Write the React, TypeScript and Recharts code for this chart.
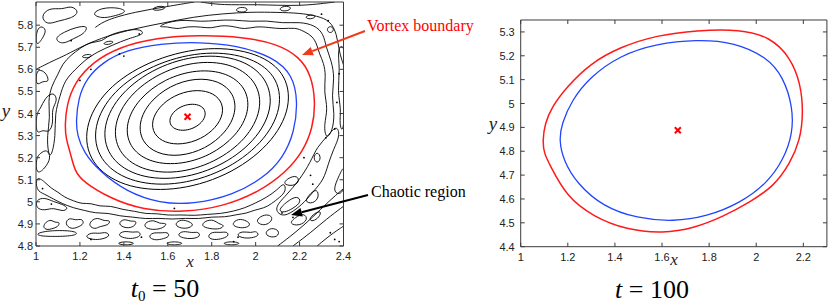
import React from 'react';
import { ComposedChart, Line, Scatter, XAxis, YAxis } from 'recharts';

type P = [number, number];

// ---------- axes ----------
const leftXTicks = [1, 1.2, 1.4, 1.6, 1.8, 2, 2.2, 2.4];
const leftYTicks = [4.8, 4.9, 5, 5.1, 5.2, 5.3, 5.4, 5.5, 5.6, 5.7, 5.8];
const rightXTicks = [1, 1.2, 1.4, 1.6, 1.8, 2, 2.2];
const rightYTicks = [4.4, 4.5, 4.6, 4.7, 4.8, 4.9, 5, 5.1, 5.2, 5.3];
const leftXDomain: [number, number] = [1, 2.4];
const leftYDomain: [number, number] = [4.8, 5.905];
const rightXDomain: [number, number] = [1, 2.3];
const rightYDomain: [number, number] = [4.4, 5.35];

// ---------- vortex centres ----------
const leftCenter: P[] = [[1.69, 5.385]];
const rightCenter: P[] = [[1.667, 4.888]];

// ---------- t0 = 50 : closed contour rings inside the vortex ----------
const leftRings: P[][] = [
  [[1.773,5.391],[1.768,5.421],[1.742,5.44],[1.702,5.444],[1.659,5.432],[1.624,5.406],[1.607,5.375],[1.612,5.345],[1.638,5.326],[1.678,5.322],[1.721,5.334],[1.756,5.36]],
  [[1.855,5.4],[1.845,5.46],[1.794,5.5],[1.715,5.508],[1.629,5.483],[1.56,5.431],[1.525,5.366],[1.535,5.306],[1.586,5.266],[1.665,5.258],[1.751,5.283],[1.82,5.335]],
  [[1.913,5.405],[1.901,5.492],[1.833,5.549],[1.726,5.562],[1.61,5.527],[1.515,5.453],[1.467,5.361],[1.479,5.274],[1.548,5.217],[1.654,5.204],[1.771,5.239],[1.865,5.313]],
  [[1.974,5.411],[1.958,5.517],[1.87,5.586],[1.734,5.601],[1.586,5.558],[1.466,5.467],[1.406,5.355],[1.422,5.249],[1.51,5.18],[1.646,5.165],[1.794,5.208],[1.914,5.299]],
  [[2.03,5.417],[2.01,5.541],[1.905,5.623],[1.742,5.641],[1.565,5.589],[1.421,5.483],[1.35,5.349],[1.37,5.225],[1.475,5.143],[1.638,5.125],[1.815,5.177],[1.959,5.283]],
  [[2.08,5.422],[2.056,5.56],[1.935,5.651],[1.747,5.67],[1.545,5.612],[1.381,5.493],[1.3,5.344],[1.324,5.206],[1.445,5.115],[1.633,5.096],[1.835,5.154],[1.999,5.273]],
  [[2.124,5.426],[2.097,5.578],[1.961,5.665],[1.753,5.684],[1.527,5.622],[1.346,5.502],[1.256,5.34],[1.283,5.188],[1.419,5.089],[1.627,5.069],[1.853,5.133],[2.034,5.264]],
  [[2.166,5.431],[2.136,5.594],[1.987,5.685],[1.758,5.705],[1.511,5.64],[1.312,5.511],[1.214,5.335],[1.244,5.172],[1.393,5.066],[1.622,5.044],[1.869,5.113],[2.068,5.255]],
];

const leftBlue: P[] = [[1.182,5.362],[1.192,5.468],[1.23,5.559],[1.306,5.634],[1.412,5.687],[1.564,5.717],[1.745,5.724],[1.912,5.709],[2.079,5.657],[2.17,5.574],[2.192,5.453],[2.177,5.317],[2.124,5.197],[2.033,5.106],[1.897,5.031],[1.715,4.989],[1.564,4.993],[1.412,5.046],[1.291,5.136],[1.215,5.227],[1.188,5.302]];

const leftRed: P[] = [[1.132,5.348],[1.139,5.438],[1.177,5.543],[1.26,5.634],[1.382,5.702],[1.548,5.743],[1.745,5.755],[1.942,5.747],[2.094,5.717],[2.2,5.657],[2.253,5.574],[2.273,5.453],[2.26,5.333],[2.215,5.227],[2.14,5.136],[2.018,5.046],[1.851,4.978],[1.67,4.952],[1.488,4.963],[1.336,5.016],[1.215,5.091],[1.177,5.136],[1.155,5.227],[1.136,5.287]];

// ---------- t0 = 50 : chaotic contours outside the vortex ----------
const chaosLoops: P[][] = [
  // left edge
  [[1.0,5.3],[1.03,5.33],[1.06,5.31],[1.08,5.36],[1.07,5.42],[1.1,5.46],[1.08,5.5],[1.04,5.47],[1.02,5.42],[1.0,5.4]],
  [[1.0,5.12],[1.04,5.15],[1.07,5.2],[1.05,5.24],[1.02,5.22],[1.0,5.2]],
  [[1.0,5.52],[1.03,5.55],[1.06,5.54],[1.05,5.58],[1.02,5.6],[1.0,5.59]],
  // band above red (upper-left)
  [[1.07,5.2],[1.09,5.3],[1.085,5.4],[1.11,5.48],[1.13,5.55],[1.18,5.6],[1.22,5.64],[1.28,5.68],[1.35,5.71],[1.42,5.74],[1.5,5.76],[1.47,5.785],[1.4,5.775],[1.33,5.755],[1.3,5.725],[1.25,5.725],[1.2,5.695],[1.16,5.665],[1.12,5.625],[1.1,5.575],[1.07,5.525],[1.055,5.455],[1.065,5.385],[1.05,5.3],[1.055,5.22]],
  [[1.2,5.655],[1.23,5.67],[1.26,5.665],[1.24,5.65]],
  [[1.3,5.715],[1.33,5.73],[1.36,5.725],[1.33,5.71]],
  // top-left corner
  [[1.02,5.84],[1.06,5.88],[1.12,5.87],[1.16,5.89],[1.2,5.86],[1.16,5.83],[1.1,5.82],[1.05,5.8]],
  [[1.08,5.74],[1.13,5.77],[1.18,5.79],[1.24,5.8],[1.22,5.76],[1.17,5.74],[1.12,5.71]],
  [[1.0,5.7],[1.03,5.74],[1.05,5.78],[1.02,5.8],[1.0,5.77]],
  [[1.25,5.85],[1.3,5.88],[1.38,5.88],[1.42,5.86],[1.35,5.84],[1.3,5.83]],
  // top band and right side
  [[1.55,5.79],[1.6,5.795],[1.64,5.78],[1.69,5.795],[1.75,5.792],[1.8,5.785],[1.84,5.8],[1.9,5.795],[1.95,5.78],[2.0,5.795],[2.06,5.79],[2.12,5.782],[2.18,5.79],[2.22,5.772],[2.26,5.75],[2.28,5.71],[2.29,5.67],[2.31,5.63],[2.32,5.57],[2.31,5.5],[2.33,5.42],[2.31,5.35],[2.32,5.28],[2.35,5.32],[2.36,5.4],[2.345,5.48],[2.36,5.56],[2.345,5.64],[2.32,5.7],[2.31,5.76],[2.27,5.8],[2.2,5.815],[2.12,5.808],[2.05,5.822],[1.98,5.815],[1.9,5.825],[1.82,5.822],[1.75,5.815],[1.68,5.825],[1.6,5.815]],
  [[1.9,5.865],[1.93,5.885],[1.97,5.875],[1.95,5.855]],
  [[2.1,5.87],[2.13,5.89],[2.17,5.88],[2.14,5.86]],
  [[2.22,5.835],[2.25,5.85],[2.28,5.84],[2.25,5.825]],
  [[1.52,5.87],[1.56,5.89],[1.6,5.88],[1.56,5.865]],
  [[2.32,5.78],[2.34,5.8],[2.36,5.78],[2.34,5.76]],
  // right edge
  [[2.37,5.7],[2.385,5.6],[2.372,5.5],[2.39,5.42],[2.38,5.35],[2.4,5.3],[2.41,5.5],[2.41,5.72]],
  [[2.08,4.97],[2.14,5.03],[2.2,5.1],[2.25,5.18],[2.28,5.25],[2.33,5.3],[2.37,5.35],[2.385,5.3],[2.355,5.24],[2.33,5.17],[2.31,5.1],[2.265,5.05],[2.225,5.0],[2.17,4.955],[2.12,4.93]],
  [[2.26,5.2],[2.28,5.23],[2.3,5.2],[2.28,5.17]],
  [[2.35,5.05],[2.38,5.12],[2.41,5.18],[2.41,5.06],[2.38,5.03]],
  // bottom band just below red
  [[1.0,5.12],[1.04,5.09],[1.07,5.06],[1.1,5.045],[1.13,5.02],[1.17,5.005],[1.21,4.99],[1.25,4.995],[1.29,4.978],[1.34,4.983],[1.39,4.965],[1.45,4.958],[1.5,4.945],[1.55,4.948],[1.6,4.938],[1.66,4.942],[1.72,4.937],[1.78,4.944],[1.84,4.946],[1.9,4.958],[1.95,4.972],[2.0,4.995],[2.05,5.02],[2.1,5.055],[2.13,5.09],[2.14,5.05],[2.11,5.02],[2.07,4.99],[2.04,4.972],[1.99,4.962],[1.96,4.948],[1.91,4.942],[1.86,4.93],[1.8,4.933],[1.74,4.922],[1.68,4.927],[1.62,4.92],[1.56,4.927],[1.5,4.922],[1.44,4.932],[1.38,4.935],[1.33,4.95],[1.27,4.948],[1.22,4.962],[1.17,4.972],[1.12,4.992],[1.08,5.012],[1.04,5.035],[1.0,5.05]],
  [[1.005,4.86],[1.08,4.872],[1.186,4.868],[1.19,4.848],[1.1,4.842],[1.005,4.845]],
  [[1.0,4.97],[1.04,4.96],[1.08,4.975],[1.12,4.955],[1.15,4.97],[1.12,4.99],[1.08,5.0],[1.04,5.02],[1.0,5.01]],
  // bottom texture, row 1
  [[1.03,4.885],[1.045,4.91],[1.07,4.92],[1.085,4.905],[1.11,4.91],[1.1,4.885],[1.07,4.878],[1.05,4.872]],
  [[1.13,4.9],[1.15,4.93],[1.18,4.915],[1.21,4.925],[1.22,4.9],[1.19,4.885],[1.16,4.875]],
  [[1.24,4.89],[1.25,4.915],[1.28,4.93],[1.31,4.912],[1.34,4.918],[1.33,4.893],[1.29,4.89],[1.27,4.875]],
  [[1.37,4.9],[1.4,4.925],[1.43,4.91],[1.46,4.915],[1.45,4.888],[1.41,4.878]],
  [[1.49,4.885],[1.5,4.91],[1.54,4.918],[1.56,4.9],[1.6,4.905],[1.58,4.88],[1.53,4.872]],
  [[1.63,4.9],[1.66,4.922],[1.7,4.91],[1.72,4.895],[1.69,4.878],[1.65,4.882]],
  [[1.75,4.89],[1.77,4.915],[1.81,4.92],[1.83,4.9],[1.86,4.895],[1.84,4.875],[1.79,4.878]],
  [[1.89,4.9],[1.92,4.925],[1.96,4.915],[1.98,4.895],[1.95,4.88],[1.91,4.885]],
  [[2.0,4.91],[2.02,4.935],[2.06,4.945],[2.08,4.925],[2.06,4.9],[2.03,4.893]],
  // bottom texture, row 2
  [[1.22,4.84],[1.25,4.862],[1.29,4.855],[1.32,4.865],[1.34,4.845],[1.3,4.83],[1.26,4.828]],
  [[1.37,4.85],[1.4,4.87],[1.44,4.86],[1.47,4.868],[1.48,4.845],[1.44,4.832],[1.4,4.836]],
  [[1.51,4.84],[1.53,4.862],[1.57,4.858],[1.6,4.864],[1.61,4.842],[1.57,4.83],[1.54,4.826]],
  [[1.64,4.85],[1.67,4.87],[1.71,4.858],[1.74,4.866],[1.75,4.842],[1.71,4.832],[1.67,4.835]],
  [[1.78,4.843],[1.8,4.865],[1.84,4.86],[1.87,4.866],[1.88,4.845],[1.84,4.83],[1.8,4.828]],
  [[1.91,4.85],[1.94,4.868],[1.98,4.858],[2.0,4.87],[2.02,4.848],[1.98,4.835],[1.94,4.836]],
  [[2.04,4.86],[2.07,4.885],[2.11,4.87],[2.1,4.84],[2.06,4.84]],
  // bottom texture, row 3
  [[1.36,4.812],[1.41,4.822],[1.46,4.812],[1.41,4.802]],
  [[1.58,4.812],[1.63,4.822],[1.68,4.812],[1.63,4.802]],
  [[1.84,4.812],[1.89,4.822],[1.94,4.812],[1.89,4.802]],
  // around the "chaotic region" arrow
  [[2.1,4.96],[2.14,5.0],[2.19,5.03],[2.21,5.0],[2.17,4.97],[2.13,4.95]],
  [[2.15,4.9],[2.18,4.93],[2.22,4.95],[2.24,4.92],[2.2,4.89]],
  [[2.12,5.08],[2.15,5.11],[2.19,5.12],[2.2,5.09],[2.17,5.07]],
  [[2.22,5.0],[2.25,5.04],[2.28,5.06],[2.29,5.02],[2.26,4.99]],
  [[2.24,4.92],[2.27,4.95],[2.3,4.96],[2.29,4.93],[2.26,4.91]],
];

const chaosOpen: P[][] = [
  [[1.0,5.6],[1.04,5.62],[1.08,5.64],[1.135,5.664],[1.22,5.71],[1.32,5.75],[1.45,5.785],[1.58,5.81],[1.718,5.838],[1.85,5.852],[1.98,5.86],[2.1,5.858],[2.2,5.855],[2.28,5.842],[2.34,5.82],[2.37,5.76],[2.38,5.68],[2.4,5.62]],
  [[1.27,5.79],[1.32,5.825],[1.45,5.86],[1.6,5.885],[1.72,5.905]],
  [[1.75,5.905],[1.85,5.89],[2.0,5.895],[2.2,5.885],[2.36,5.905]],
  [[2.1,4.8],[2.18,4.86],[2.26,4.93],[2.33,5.0],[2.4,5.06]],
  [[2.17,4.8],[2.25,4.86],[2.32,4.92],[2.4,4.98]],
  [[2.28,4.8],[2.34,4.85],[2.4,4.89]],
];

const chaosDots: P[] = [
  [1.03,5.06],[1.07,4.99],[1.25,4.83],[1.48,4.84],[1.92,4.84],[2.12,4.95],[2.17,4.93],[2.34,4.86],[2.36,4.83],
  [2.32,5.29],[2.36,5.33],[2.37,5.45],[2.38,5.58],[1.38,5.67],[1.4,5.66],[1.2,5.55],[1.25,5.6],[2.3,5.85],
  [2.33,5.82],[1.63,4.97],[1.9,4.82],[2.26,5.08],[2.25,5.12],[2.22,5.2],[1.47,5.76],[1.16,5.73],[2.38,4.82],
];

// ---------- t = 100 ----------
const rightRed: P[] = [[1.093,4.846],[1.103,4.916],[1.132,4.986],[1.195,5.069],[1.294,5.167],[1.422,5.237],[1.578,5.286],[1.747,5.307],[1.931,5.311],[2.059,5.279],[2.144,5.195],[2.189,5.084],[2.2,4.958],[2.186,4.846],[2.144,4.749],[2.073,4.651],[1.974,4.588],[1.86,4.526],[1.733,4.477],[1.605,4.456],[1.45,4.47],[1.308,4.526],[1.195,4.609],[1.124,4.742],[1.099,4.791]];
const rightBlue: P[] = [[1.163,4.846],[1.174,4.916],[1.217,5.014],[1.294,5.111],[1.422,5.202],[1.578,5.251],[1.747,5.268],[1.903,5.258],[2.045,5.195],[2.115,5.111],[2.155,4.986],[2.155,4.874],[2.115,4.763],[2.045,4.665],[1.931,4.582],[1.79,4.526],[1.648,4.505],[1.493,4.519],[1.351,4.567],[1.238,4.665],[1.181,4.763]];

// ---------- helpers ----------
const toPts = (c: P[]) => c.map(([x, y]) => ({ x, y }));
const fmt = (v: number) => String(Math.round(v * 10) / 10);
const tickFont = "'Liberation Sans', Arial, Helvetica, sans-serif";
const frame = '#3a3a3a';

const makeTick = (side: string, gap: number) => (props: any) => {
  const { x, y, payload } = props;
  if (side === 'bottom')
    return (
      <g>
        <line x1={x} y1={y} x2={x} y2={y - 4} stroke={frame} />
        <text x={x} y={y + 14} textAnchor="middle" fontSize={11} fontFamily={tickFont} fill="#222">{fmt(payload.value)}</text>
      </g>
    );
  if (side === 'left')
    return (
      <g>
        <line x1={x} y1={y} x2={x + 4} y2={y} stroke={frame} />
        <text x={x - gap} y={y + 4} textAnchor="end" fontSize={11} fontFamily={tickFont} fill="#222">{fmt(payload.value)}</text>
      </g>
    );
  if (side === 'top') return <line x1={x} y1={y} x2={x} y2={y + 4} stroke={frame} />;
  return <line x1={x} y1={y} x2={x - 4} y2={y} stroke={frame} />;
};

const XMark = (p: any) => {
  const { cx, cy } = p;
  return (
    <g>
      <line x1={cx - 3} y1={cy - 3} x2={cx + 3} y2={cy + 3} stroke="#ff0000" strokeWidth={2} />
      <line x1={cx - 3} y1={cy + 3} x2={cx + 3} y2={cy - 3} stroke="#ff0000" strokeWidth={2} />
    </g>
  );
};
const Dot = (p: any) => <circle cx={p.cx} cy={p.cy} r={0.9} fill="#000" />;
const Empty = () => <g />;

const curve = (c: P[], key: string, stroke: string, width: number, type: any) => (
  <Line
    key={key}
    data={toPts(c)}
    dataKey="y"
    type={type}
    stroke={stroke}
    strokeWidth={width}
    dot={false}
    activeDot={false}
    isAnimationActive={false}
    legendType="none"
  />
);

function axes(xDomain: [number, number], yDomain: [number, number], xTicks: number[], yTicks: number[], yWidth: number, gap: number, anchor: P[]) {
  return [
    <XAxis key="xb" xAxisId={0} type="number" dataKey="x" domain={xDomain} ticks={xTicks} interval={0} allowDataOverflow height={20} tickSize={0} tickMargin={0} tickLine={false} axisLine={{ stroke: frame }} tick={makeTick('bottom', 0)} />,
    <XAxis key="xt" xAxisId="top" orientation="top" type="number" dataKey="x" domain={xDomain} ticks={xTicks} interval={0} allowDataOverflow height={1} tickSize={0} tickMargin={0} tickLine={false} axisLine={{ stroke: frame }} tick={makeTick('top', 0)} />,
    <YAxis key="yl" yAxisId={0} type="number" domain={yDomain} ticks={yTicks} interval={0} allowDataOverflow width={yWidth} tickSize={0} tickMargin={0} tickLine={false} axisLine={{ stroke: frame }} tick={makeTick('left', gap)} />,
    <YAxis key="yr" yAxisId="right" orientation="right" type="number" domain={yDomain} ticks={yTicks} interval={0} allowDataOverflow width={1} tickSize={0} tickMargin={0} tickLine={false} axisLine={{ stroke: frame }} tick={makeTick('right', 0)} />,
    <Scatter key="anchor" xAxisId="top" yAxisId="right" data={toPts(anchor)} dataKey="y" shape={Empty} isAnimationActive={false} legendType="none" />,
  ];
}

const Arrow = ({ x1, y1, x2, y2, color }: { x1: number; y1: number; x2: number; y2: number; color: string }) => {
  const dx = x2 - x1, dy = y2 - y1;
  const L = Math.hypot(dx, dy);
  const ux = dx / L, uy = dy / L;
  const hl = 11, hw = 4.5;
  const bx = x2 - ux * hl, by = y2 - uy * hl;
  return (
    <g>
      <line x1={x1} y1={y1} x2={bx} y2={by} stroke={color} strokeWidth={2} />
      <polygon points={`${x2},${y2} ${bx - uy * hw},${by + ux * hw} ${bx + uy * hw},${by - ux * hw}`} fill={color} />
    </g>
  );
};

const serif = "'Liberation Serif', 'Times New Roman', serif";

export default function App() {
  return (
    <div style={{ position: 'absolute', left: 0, top: 0, width: 830, height: 307, background: '#fff', overflow: 'hidden' }}>
      <div style={{ position: 'absolute', left: 0, top: 0 }}>
        <ComposedChart width={355} height={266} margin={{ top: 1, right: 10.5, bottom: 0, left: 0 }}>
          {axes(leftXDomain, leftYDomain, leftXTicks, leftYTicks, 36, 3, leftCenter)}
          {chaosLoops.map((c, i) => curve(c, 'cl' + i, '#000', 0.9, 'basisClosed'))}
          {chaosOpen.map((c, i) => curve(c, 'co' + i, '#000', 0.9, 'basis'))}
          {leftRings.map((c, i) => curve(c, 'r' + i, '#000', 1, 'basisClosed'))}
          {curve(leftBlue, 'lb', '#2244ff', 1.3, 'basisClosed')}
          {curve(leftRed, 'lr', '#ff1a1a', 1.5, 'basisClosed')}
          <Scatter data={toPts(chaosDots)} dataKey="y" shape={Dot} isAnimationActive={false} legendType="none" />
          <Scatter data={toPts(leftCenter)} dataKey="y" shape={XMark} isAnimationActive={false} legendType="none" />
        </ComposedChart>
      </div>
      <div style={{ position: 'absolute', left: 480, top: 0 }}>
        <ComposedChart width={350} height={266.7} margin={{ top: 19, right: 2.1, bottom: 0, left: 0 }}>
          {axes(rightXDomain, rightYDomain, rightXTicks, rightYTicks, 40.7, 6, rightCenter)}
          {curve(rightBlue, 'rb', '#2244ff', 1.3, 'basisClosed')}
          {curve(rightRed, 'rr', '#ff1a1a', 1.5, 'basisClosed')}
          <Scatter data={toPts(rightCenter)} dataKey="y" shape={XMark} isAnimationActive={false} legendType="none" />
        </ComposedChart>
      </div>
      <svg width={830} height={307} style={{ position: 'absolute', left: 0, top: 0, pointerEvents: 'none' }}>
        <text x={367} y={30.5} fontSize={16} fontFamily={serif} fill="#ff0000">Vortex boundary</text>
        <Arrow x1={365} y1={31} x2={302} y2={55} color="#f03a1a" />
        <text x={371} y={197} fontSize={16} fontFamily={serif} fill="#000">Chaotic region</text>
        <Arrow x1={368} y1={195} x2={291} y2={215} color="#000" />
        <text x={190} y={267} fontSize={17} fontStyle="italic" fontFamily={serif} textAnchor="middle" fill="#222">x</text>
        <text x={674} y={265} fontSize={17} fontStyle="italic" fontFamily={serif} textAnchor="middle" fill="#222">x</text>
        <text x={6} y={117} fontSize={19} fontStyle="italic" fontFamily={serif} textAnchor="middle" fill="#222">y</text>
        <text x={493} y={130} fontSize={19} fontStyle="italic" fontFamily={serif} textAnchor="middle" fill="#222">y</text>
        <text x={165} y={297} fontSize={26} fontFamily={serif} textAnchor="middle" fill="#000">
          <tspan fontStyle="italic">t</tspan>
          <tspan fontSize={15} dy={4}>0</tspan>
          <tspan dy={-4}> = 50</tspan>
        </text>
        <text x={652} y={298} fontSize={26} fontFamily={serif} textAnchor="middle" fill="#000">
          <tspan fontStyle="italic">t</tspan>
          <tspan> = 100</tspan>
        </text>
      </svg>
    </div>
  );
}
